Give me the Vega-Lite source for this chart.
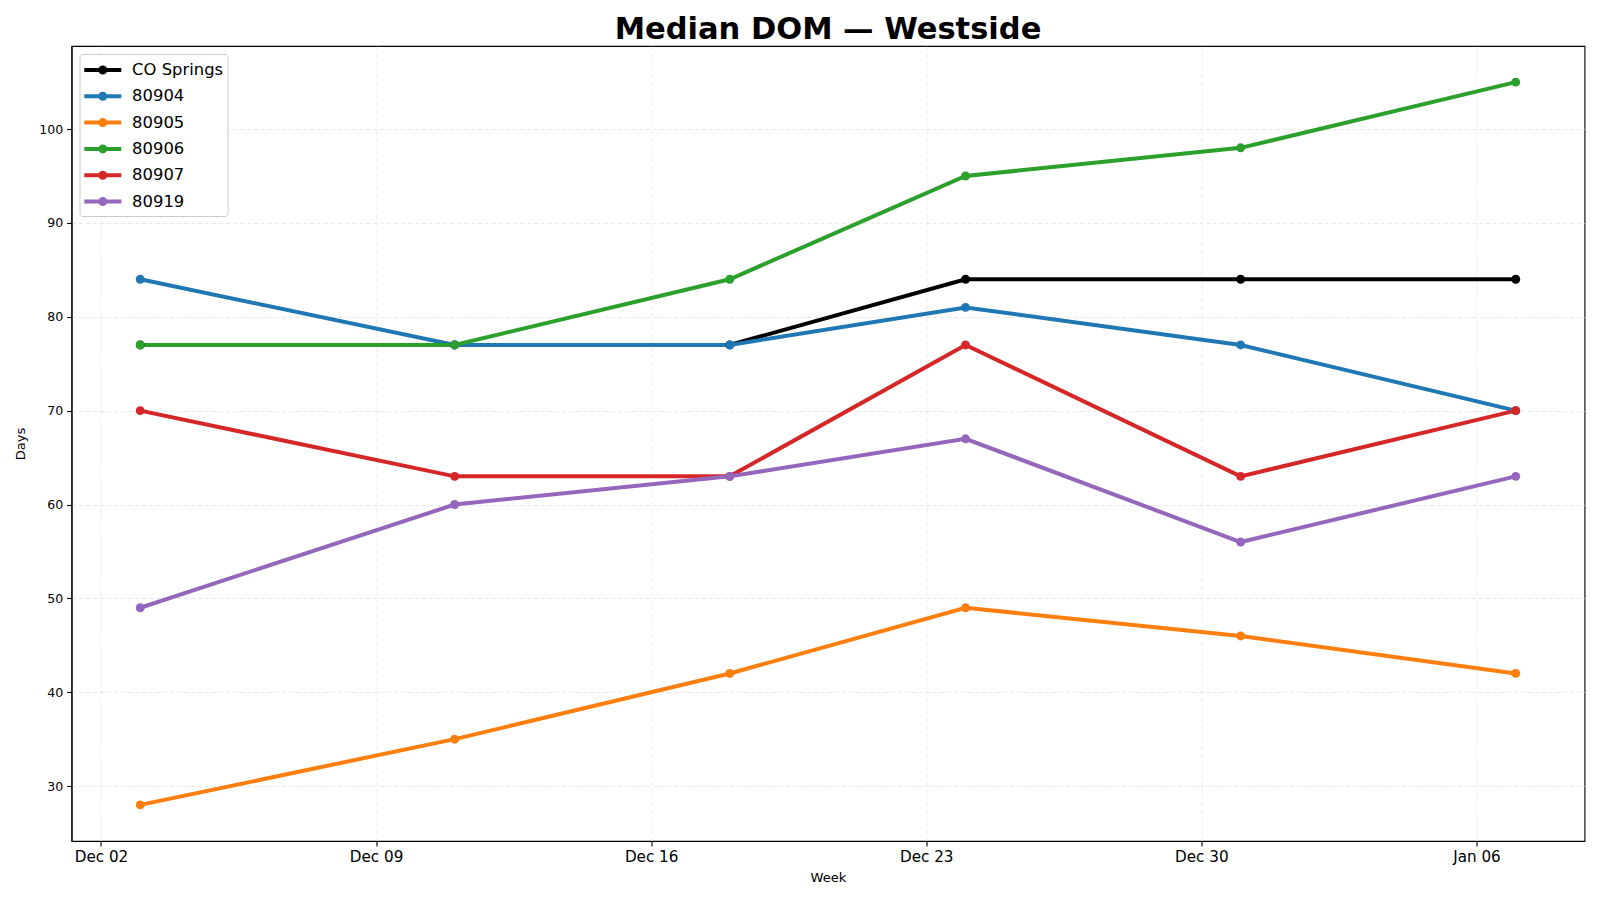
{
  "$schema": "https://vega.github.io/schema/vega-lite/v6.json",
  "width": 1513,
  "height": 795,
  "autosize": {"type": "none"},
  "padding": {"left": 71.5, "top": 46, "right": 15.5, "bottom": 59},
  "background": "white",
  "title": {
    "text": "Median DOM — Westside",
    "font": "DejaVu Sans",
    "fontSize": 30.5,
    "fontWeight": "bold",
    "color": "black",
    "anchor": "middle",
    "offset": 1
  },
  "config": {
    "font": "DejaVu Sans",
    "view": {"stroke": "black", "strokeWidth": 1.1},
    "axis": {
      "domainColor": "black",
      "domainWidth": 1.1,
      "tickColor": "black",
      "tickSize": 4.9,
      "tickWidth": 1.1,
      "labelFont": "DejaVu Sans",
      "labelColor": "black",
      "labelPadding": 4,
      "titleFont": "DejaVu Sans",
      "titleFontSize": 13.1,
      "titleFontWeight": "normal",
      "titleColor": "black",
      "grid": true,
      "gridColor": "#dddddd",
      "gridDash": [4, 3],
      "gridWidth": 0.8,
      "gridOpacity": 0.8
    }
  },
  "data": {
    "values": [
      {"week": "2024-12-03", "series": "CO Springs", "days": 77},
      {"week": "2024-12-11", "series": "CO Springs", "days": 77},
      {"week": "2024-12-18", "series": "CO Springs", "days": 77},
      {"week": "2024-12-24", "series": "CO Springs", "days": 84},
      {"week": "2024-12-31", "series": "CO Springs", "days": 84},
      {"week": "2025-01-07", "series": "CO Springs", "days": 84},
      {"week": "2024-12-03", "series": "80904", "days": 84},
      {"week": "2024-12-11", "series": "80904", "days": 77},
      {"week": "2024-12-18", "series": "80904", "days": 77},
      {"week": "2024-12-24", "series": "80904", "days": 81},
      {"week": "2024-12-31", "series": "80904", "days": 77},
      {"week": "2025-01-07", "series": "80904", "days": 70},
      {"week": "2024-12-03", "series": "80905", "days": 28},
      {"week": "2024-12-11", "series": "80905", "days": 35},
      {"week": "2024-12-18", "series": "80905", "days": 42},
      {"week": "2024-12-24", "series": "80905", "days": 49},
      {"week": "2024-12-31", "series": "80905", "days": 46},
      {"week": "2025-01-07", "series": "80905", "days": 42},
      {"week": "2024-12-03", "series": "80906", "days": 77},
      {"week": "2024-12-11", "series": "80906", "days": 77},
      {"week": "2024-12-18", "series": "80906", "days": 84},
      {"week": "2024-12-24", "series": "80906", "days": 95},
      {"week": "2024-12-31", "series": "80906", "days": 98},
      {"week": "2025-01-07", "series": "80906", "days": 105},
      {"week": "2024-12-03", "series": "80907", "days": 70},
      {"week": "2024-12-11", "series": "80907", "days": 63},
      {"week": "2024-12-18", "series": "80907", "days": 63},
      {"week": "2024-12-24", "series": "80907", "days": 77},
      {"week": "2024-12-31", "series": "80907", "days": 63},
      {"week": "2025-01-07", "series": "80907", "days": 70},
      {"week": "2024-12-03", "series": "80919", "days": 49},
      {"week": "2024-12-11", "series": "80919", "days": 60},
      {"week": "2024-12-18", "series": "80919", "days": 63},
      {"week": "2024-12-24", "series": "80919", "days": 67},
      {"week": "2024-12-31", "series": "80919", "days": 56},
      {"week": "2025-01-07", "series": "80919", "days": 63}
    ]
  },
  "encoding": {
    "x": {
      "field": "week",
      "type": "temporal",
      "title": "Week",
      "scale": {
        "type": "utc",
        "domain": [
          {"year": 2024, "month": 12, "date": 1, "hours": 6, "utc": true},
          {"year": 2025, "month": 1, "date": 8, "hours": 18, "utc": true}
        ]
      },
      "axis": {
        "values": [
          {"year": 2024, "month": 12, "date": 2, "utc": true},
          {"year": 2024, "month": 12, "date": 9, "utc": true},
          {"year": 2024, "month": 12, "date": 16, "utc": true},
          {"year": 2024, "month": 12, "date": 23, "utc": true},
          {"year": 2024, "month": 12, "date": 30, "utc": true},
          {"year": 2025, "month": 1, "date": 6, "utc": true}
        ],
        "format": "%b %d",
        "labelFontSize": 15.2,
        "labelFlush": false,
        "titlePadding": 6
      }
    },
    "y": {
      "field": "days",
      "type": "quantitative",
      "title": "Days",
      "scale": {"domain": [24.15, 108.85], "nice": false, "zero": false},
      "axis": {
        "values": [30, 40, 50, 60, 70, 80, 90, 100],
        "labelFontSize": 12.5,
        "titlePadding": 11
      }
    },
    "color": {
      "field": "series",
      "type": "nominal",
      "title": null,
      "scale": {
        "domain": ["CO Springs", "80904", "80905", "80906", "80907", "80919"],
        "range": ["#000000", "#1f77b4", "#ff7f0e", "#2ca02c", "#d62728", "#9467bd"]
      },
      "legend": {
        "orient": "none",
        "legendX": 8,
        "legendY": 8,
        "fillColor": "white",
        "strokeColor": "#cccccc",
        "cornerRadius": 3,
        "padding": 4,
        "labelFont": "DejaVu Sans",
        "labelFontSize": 16.4,
        "labelColor": "black",
        "rowPadding": 3.3,
        "labelOffset": 17.3,
        "symbolOffset": 7.3,
        "symbolSize": 400,
        "symbolStrokeWidth": 4,
        "symbolType": "M-1.85,0L1.85,0M-0.25,0A0.25,0.25,0,1,1,0.25,0A0.25,0.25,0,1,1,-0.25,0Z",
        "encode": {
          "symbols": {
            "update": {
              "fill": {"scale": "color", "field": "value"},
              "stroke": {"scale": "color", "field": "value"},
              "strokeWidth": {"value": 4},
              "opacity": {"value": 1}
            }
          }
        }
      }
    },
    "order": {"field": "week", "type": "temporal"}
  },
  "layer": [
    {"mark": {"type": "line", "strokeWidth": 4, "point": {"filled": true, "size": 80, "opacity": 1}}}
  ]
}
